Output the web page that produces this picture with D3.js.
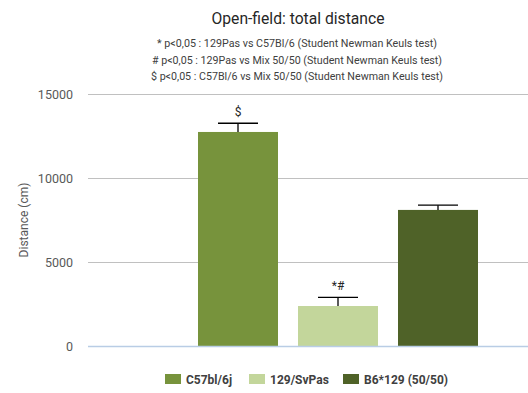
<!DOCTYPE html>
<html>
<head>
<meta charset="utf-8">
<script src="https://cdn.jsdelivr.net/npm/d3@7"></script>
<style>
  body { margin: 0; background: #fff; }
  text { font-family: Roboto, "Noto Sans", sans-serif; }
</style>
</head>
<body>
<script>
var width = 528,
  height = 393;

// data
var groups = ["C57bl/6j", "129/SvPas", "B6*129 (50/50)"];
var means = [12740, 2380, 8100];
var errors = [520, 520, 280];
var marks = ["$", "*#", ""];
var colors = ["#77933c", "#c3d69b", "#4f6228"];
var yTicks = [0, 5000, 10000, 15000];
var notes = [
  "* p<0,05 : 129Pas vs C57Bl/6 (Student Newman Keuls test)",
  "# p<0,05 : 129Pas vs Mix 50/50 (Student Newman Keuls test)",
  "$ p<0,05 : C57Bl/6 vs Mix 50/50 (Student Newman Keuls test)"
];

var svg = d3
  .select("body")
  .append("svg")
  .attr("width", width)
  .attr("height", height);

var y = d3.scaleLinear().domain([0, 15000]).range([346, 94]);

var x = d3
  .scaleBand()
  .domain(groups)
  .range([188, 488])
  .paddingInner(0.2)
  .paddingOuter(0.1);

// title + notes
svg
  .append("text")
  .attr("x", 298)
  .attr("y", 24)
  .attr("text-anchor", "middle")
  .attr("font-size", 16)
  .attr("fill", "#262626")
  .attr("textLength", 173)
  .attr("lengthAdjust", "spacingAndGlyphs")
  .text("Open-field: total distance");

svg
  .selectAll(".note")
  .data(notes)
  .enter()
  .append("text")
  .attr("class", "note")
  .attr("x", 297)
  .attr("y", function(d, i) { return 47 + i * 16.5; })
  .attr("text-anchor", "middle")
  .attr("font-size", 11)
  .attr("fill", "#404040")
  .attr("textLength", function(d, i) { return [280, 290, 292][i]; })
  .attr("lengthAdjust", "spacingAndGlyphs")
  .text(function(d) { return d; });

// grid
svg
  .selectAll(".grid")
  .data(yTicks.slice(1))
  .enter()
  .append("line")
  .attr("x1", 88)
  .attr("x2", 528)
  .attr("y1", function(d) { return Math.round(y(d)) + 0.5; })
  .attr("y2", function(d) { return Math.round(y(d)) + 0.5; })
  .attr("stroke", "#c0c0c0")
  .attr("stroke-width", 1);

// y labels
svg
  .selectAll(".ylab")
  .data(yTicks)
  .enter()
  .append("text")
  .attr("x", 73)
  .attr("y", function(d) { return y(d) + 5; })
  .attr("text-anchor", "end")
  .attr("font-size", 12.5)
  .attr("fill", "#595959")
  .text(function(d) { return d; });

svg
  .append("text")
  .attr("transform", "translate(28,220) rotate(-90)")
  .attr("text-anchor", "middle")
  .attr("font-size", 12)
  .attr("fill", "#595959")
  .text("Distance (cm)");

// bars
svg
  .selectAll(".bar")
  .data(groups)
  .enter()
  .append("rect")
  .attr("x", function(d) { return x(d); })
  .attr("width", x.bandwidth())
  .attr("y", function(d, i) { return y(means[i]); })
  .attr("height", function(d, i) { return y(0) - y(means[i]); })
  .attr("fill", function(d, i) { return colors[i]; });

// baseline
svg
  .append("line")
  .attr("x1", 88)
  .attr("x2", 528)
  .attr("y1", 346.5)
  .attr("y2", 346.5)
  .attr("stroke", "#b9cde5")
  .attr("stroke-width", 1.5);

// error bars
var eb = svg
  .selectAll(".err")
  .data(groups)
  .enter()
  .append("g");

eb.append("line")
  .attr("x1", function(d) { return x(d) + x.bandwidth() / 2; })
  .attr("x2", function(d) { return x(d) + x.bandwidth() / 2; })
  .attr("y1", function(d, i) { return y(means[i]); })
  .attr("y2", function(d, i) { return y(means[i] + errors[i]); })
  .attr("stroke", "#000")
  .attr("stroke-width", 1.3);

eb.append("line")
  .attr("x1", function(d) { return x(d) + x.bandwidth() / 4; })
  .attr("x2", function(d) { return x(d) + (x.bandwidth() * 3) / 4; })
  .attr("y1", function(d, i) { return y(means[i] + errors[i]); })
  .attr("y2", function(d, i) { return y(means[i] + errors[i]); })
  .attr("stroke", "#000")
  .attr("stroke-width", 1.3);

eb.append("text")
  .attr("x", function(d) { return x(d) + x.bandwidth() / 2; })
  .attr("y", function(d, i) { return y(means[i] + errors[i]) - 7; })
  .attr("text-anchor", "middle")
  .attr("font-size", 12)
  .attr("fill", "#262626")
  .text(function(d, i) { return marks[i]; });

// legend
var legX = [165, 249, 343];
var leg = svg
  .selectAll(".leg")
  .data(groups)
  .enter()
  .append("g")
  .attr("transform", function(d, i) { return "translate(" + legX[i] + ",374)"; });

leg.append("rect")
  .attr("width", 16)
  .attr("height", 10)
  .attr("fill", function(d, i) { return colors[i]; });

leg.append("text")
  .attr("x", 21)
  .attr("y", 10)
  .attr("font-size", 12)
  .attr("font-weight", "bold")
  .attr("fill", "#404040")
  .text(function(d) { return d; });
</script>
</body>
</html>
